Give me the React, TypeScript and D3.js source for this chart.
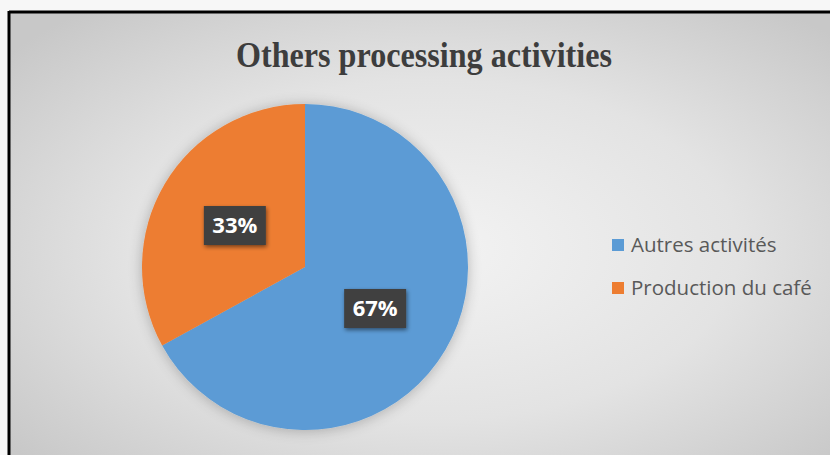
import React from "react";
import * as d3 from "d3";

const categories = ["Autres activités", "Production du café"];
const values = [67, 33];
const labels = ["67%", "33%"];
const colors = ["#5B9BD5", "#ED7D31"];
const title = "Others processing activities";

const W = 830;
const H = 455;

export default function App() {
  const cx = 305;
  const cy = 267;
  const R = 163;
  const pie = d3.pie<number>().sort(null).value((d) => d).startAngle(0).endAngle(2 * Math.PI);
  const arcs = pie(values);
  const arc = d3.arc<d3.PieArcDatum<number>>().innerRadius(0).outerRadius(R);
  const labelArc = d3.arc<d3.PieArcDatum<number>>().innerRadius(0).outerRadius(R);

  const legendY = d3.scalePoint<string>().domain(categories).range([245, 288]);

  return (
    <svg
      width={W}
      height={H}
      style={{ position: "absolute", left: 0, top: 0, display: "block" }}
    >
      <defs>
        <radialGradient id="bg" cx="0.5" cy="0.5" r="0.65">
          <stop offset="0" stopColor="#f3f3f3" />
          <stop offset="0.55" stopColor="#e3e3e3" />
          <stop offset="1" stopColor="#c8c8c8" />
        </radialGradient>
        <filter id="pieShadow" x="-20%" y="-20%" width="140%" height="140%">
          <feGaussianBlur in="SourceAlpha" stdDeviation="7" />
          <feOffset dx="0" dy="1" result="b" />
          <feComponentTransfer>
            <feFuncA type="linear" slope="0.25" />
          </feComponentTransfer>
          <feMerge>
            <feMergeNode />
            <feMergeNode in="SourceGraphic" />
          </feMerge>
        </filter>
        <filter id="boxShadow" x="-30%" y="-30%" width="160%" height="160%">
          <feGaussianBlur in="SourceAlpha" stdDeviation="2" />
          <feOffset dx="1" dy="2" result="b" />
          <feComponentTransfer>
            <feFuncA type="linear" slope="0.5" />
          </feComponentTransfer>
          <feMerge>
            <feMergeNode />
            <feMergeNode in="SourceGraphic" />
          </feMerge>
        </filter>
      </defs>
      <rect x={0} y={0} width={W} height={H} fill="#f7f7f7" />
      <rect x={9} y={12} width={W + 20} height={H + 20} fill="url(#bg)" />
      <line x1={9} y1={12} x2={W} y2={12} stroke="#000" strokeWidth={3} />
      <line x1={9} y1={11} x2={9} y2={H} stroke="#000" strokeWidth={3} />

      <text
        x={424}
        y={67}
        textAnchor="middle"
        fontFamily="'Liberation Serif', 'Times New Roman', serif"
        fontWeight="bold"
        fontSize={35}
        fill="#3d3d3d"
        textLength={376}
        lengthAdjust="spacingAndGlyphs"
      >
        {title}
      </text>

      <g transform={`translate(${cx},${cy})`} filter="url(#pieShadow)">
        {arcs.map((a, i) => (
          <path key={i} d={arc(a) || ""} fill={colors[i]} />
        ))}
      </g>

      <g transform={`translate(${cx},${cy})`}>
        {arcs.map((a, i) => {
          const [x, y] = labelArc.centroid(a);
          const bw = 62;
          const bh = 39;
          return (
            <g key={i} transform={`translate(${x},${y})`}>
              <rect
                x={-bw / 2}
                y={-bh / 2}
                width={bw}
                height={bh}
                fill="#404040"
                filter="url(#boxShadow)"
              />
              <text
                x={0}
                y={0}
                dy="0.36em"
                textAnchor="middle"
                fontFamily="'Open Sans', sans-serif"
                fontWeight="bold"
                fontSize={22}
                fill="#ffffff"
              >
                {labels[i]}
              </text>
            </g>
          );
        })}
      </g>

      <g>
        {categories.map((c, i) => {
          const y = legendY(c) as number;
          return (
            <g key={c}>
              <rect x={612} y={y - 6} width={12} height={12} fill={colors[i]} />
              <text
                x={631}
                y={y}
                dy="0.35em"
                fontFamily="'Open Sans', sans-serif"
                fontSize={20.5}
                fill="#595959"
              >
                {c}
              </text>
            </g>
          );
        })}
      </g>
    </svg>
  );
}
